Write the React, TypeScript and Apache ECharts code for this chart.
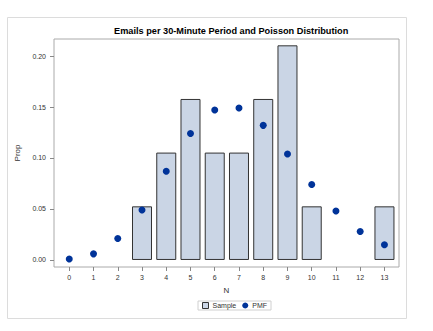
import React, { useEffect, useRef } from "react";
import * as echarts from "echarts";

const categories = [0, 1, 2, 3, 4, 5, 6, 7, 8, 9, 10, 11, 12, 13];
const sampleX = [3, 4, 5, 6, 7, 8, 9, 10, 13];
const sampleProp = [0.0526, 0.1053, 0.1579, 0.1053, 0.1053, 0.1579, 0.2105, 0.0526, 0.0526];
const pmfValues = [0.001, 0.006, 0.021, 0.049, 0.087, 0.124, 0.147, 0.149, 0.132, 0.104, 0.074, 0.048, 0.028, 0.015];
const yTicks = [0, 0.05, 0.1, 0.15, 0.2];

export default function App() {
  const ref = useRef<HTMLDivElement>(null);
  useEffect(() => {
    if (!ref.current) return;
    const chart = echarts.init(ref.current, undefined, { renderer: "svg" });
    const font = "'Liberation Sans', Arial, sans-serif";
    chart.setOption({
      animation: false,
      textStyle: { fontFamily: font },
      title: {
        text: "Emails per 30-Minute Period and Poisson Distribution",
        left: 109,
        top: 21,
        textStyle: { fontSize: 9.2, fontWeight: "bold", color: "#000", fontFamily: font },
      },
      graphic: [
        {
          type: "rect",
          shape: { x: 7.5, y: 17.5, width: 399, height: 301 },
          style: { fill: "none", stroke: "#dcdcdc", lineWidth: 1 },
          silent: true,
        },
      ],
      legend: {
        left: 198,
        top: 301,
        itemWidth: 6,
        itemHeight: 6,
        itemGap: 6,
        padding: [1, 4],
        borderColor: "#d0d0d0",
        borderWidth: 1,
        textStyle: { fontSize: 7, color: "#333", fontFamily: font, padding: [0, 0, 0, -1] },
        data: [
          { name: "Sample", icon: "rect", itemStyle: { color: "#cad5e5", borderColor: "#333", borderWidth: 1 } },
          { name: "PMF", icon: "circle", itemStyle: { color: "#003399" } },
        ],
      },
      grid: {
        left: 54,
        top: 39,
        width: 345,
        height: 228,
        show: true,
        borderColor: "#aaaaaa",
        borderWidth: 1,
        backgroundColor: "#fff",
      },
      xAxis: {
        type: "value",
        min: -0.63,
        max: 13.6,
        name: "N",
        nameLocation: "middle",
        nameGap: 19,
        nameTextStyle: { fontSize: 8, color: "#333", fontFamily: font },
        axisLine: { show: false, onZero: false },
        splitLine: { show: false },
        axisTick: { show: true, length: 4, customValues: categories, lineStyle: { color: "#888" } },
        axisLabel: { customValues: categories, fontSize: 7, color: "#333", margin: 7, fontFamily: font },
      },
      yAxis: {
        type: "value",
        min: -0.0069,
        max: 0.2167,
        name: "Prop",
        nameLocation: "middle",
        nameGap: 28,
        nameRotate: 90,
        nameTextStyle: { fontSize: 8, color: "#333", fontFamily: font },
        axisLine: { show: false, onZero: false },
        splitLine: { show: false },
        axisTick: { show: true, length: 4, customValues: yTicks, lineStyle: { color: "#888" } },
        axisLabel: {
          customValues: yTicks,
          fontSize: 7,
          color: "#333",
          margin: 8,
          fontFamily: font,
          formatter: (v: number) => v.toFixed(2),
        },
      },
      series: [
        {
          name: "Sample",
          type: "bar",
          barWidth: 20,
          data: sampleX.map((x, i) => [x, sampleProp[i]]),
          itemStyle: { color: "#cad5e5", borderColor: "#333", borderWidth: 1 },
        },
        {
          name: "PMF",
          type: "scatter",
          symbol: "circle",
          symbolSize: 7,
          data: categories.map((x, i) => [x, pmfValues[i]]),
          itemStyle: { color: "#003399", opacity: 1 },
          z: 3,
        },
      ],
    });
    return () => chart.dispose();
  }, []);
  return (
    <div
      ref={ref}
      style={{ position: "fixed", left: 0, top: 0, width: 433, height: 331, background: "#fff" }}
    />
  );
}
